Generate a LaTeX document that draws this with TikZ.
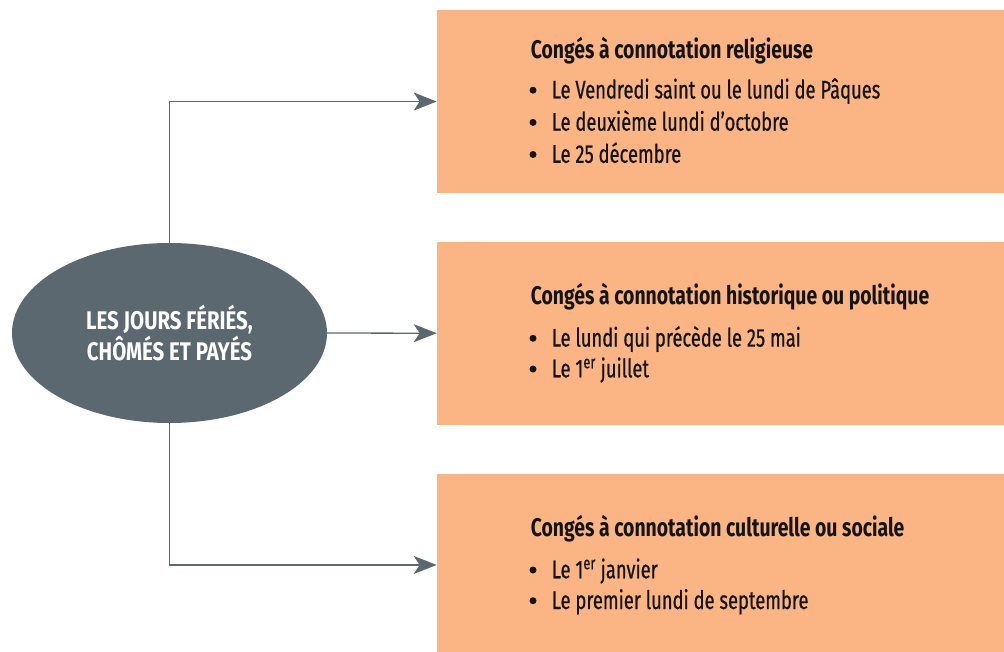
\documentclass[tikz,border=0pt]{standalone}
\usepackage{fontspec}
\setmainfont{Fira Sans}
\newfontfamily\bodyf{Fira Sans}[FakeStretch=0.72,FakeBold=0.6]
\newfontfamily\headf{Fira Sans}[FakeStretch=0.76]
\newfontfamily\hubf{Fira Sans}[FakeStretch=0.80]
\usetikzlibrary{arrows.meta,shapes.geometric}
\definecolor{boxor}{HTML}{FBB584}
\definecolor{slate}{HTML}{5C6870}
\definecolor{ink}{HTML}{141414}
\begin{document}
\begin{tikzpicture}[x=1pt,y=-1pt,
  panel/.style={fill=boxor,draw=none,minimum width=570pt,minimum height=182.7pt,anchor=north west,inner sep=0pt},
  hub/.style={ellipse,fill=slate,minimum width=315pt,minimum height=180pt,inner sep=0pt,text=white,font=\hubf\bfseries\fontsize{25.5}{31.7}\selectfont,align=center},
  conn/.style={draw=slate,line width=1.3pt,-{Stealth[length=23pt,width=18pt,inset=6pt]}},
  head/.style={anchor=base west,inner sep=0pt,text=ink,font=\headf\bfseries\fontsize{25.5}{30}\selectfont},
  item/.style={anchor=base west,inner sep=0pt,text=ink,font=\bodyf\fontsize{25.5}{30}\selectfont},
  dot/.style={circle,fill=ink,minimum size=7pt,inner sep=0pt}]
\useasboundingbox (0,0) rectangle (1004,652);
\node[panel] (b1) at (436.7,10) {};
\node[panel] (b2) at (436.7,241.7) {};
\node[panel] (b3) at (436.7,473.4) {};
\node[hub] (hub) at (169.5,333) {LES JOURS FÉRIÉS,\\CHÔMÉS ET PAYÉS};
\draw[conn] (hub.north) |- (b1.west);
\draw[conn] (hub.east) -- (b2.west);
\draw[conn] (hub.south) |- (b3.west);
% box 1
\node[head] (h1) at (530.7,58.3) {Congés à connotation religieuse};
\node[dot] (d11) at (533,90.2) {};
\node[item] (t11) at (551.7,98.5) {Le Vendredi saint ou le lundi de Pâques};
\node[dot] (d12) at (533,122.4) {};
\node[item] (t12) at (551.7,130.7) {Le deuxième lundi d’octobre};
\node[dot] (d13) at (533,154.5) {};
\node[item] (t13) at (551.7,162.8) {Le 25 décembre};
% box 2
\node[head] (h2) at (530.7,305) {Congés à connotation historique ou politique};
\node[dot] (d21) at (533,338.3) {};
\node[item] (t21) at (551.7,346.6) {Le lundi qui précède le 25 mai};
\node[dot] (d22) at (533,369) {};
\node[item] (t22) at (551.7,377.3) {Le 1\textsuperscript{er} juillet};
% box 3
\node[head] (h3) at (530.7,536.7) {Congés à connotation culturelle ou sociale};
\node[dot] (d31) at (533,570) {};
\node[item] (t31) at (551.7,578.3) {Le 1\textsuperscript{er} janvier};
\node[dot] (d32) at (533,600.7) {};
\node[item] (t32) at (551.7,609) {Le premier lundi de septembre};
\end{tikzpicture}
\end{document}
